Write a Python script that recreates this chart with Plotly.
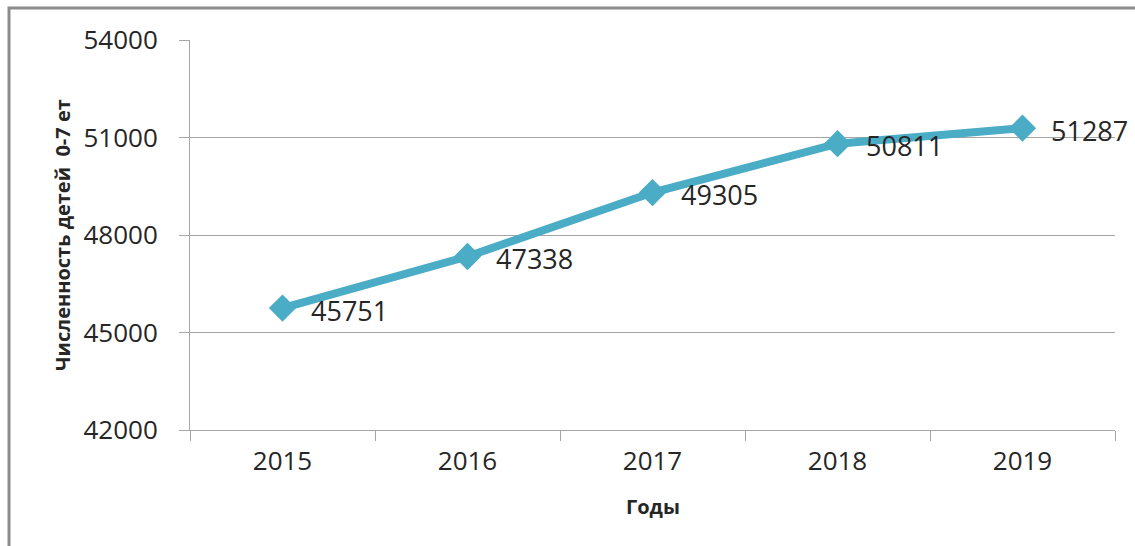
import plotly.graph_objects as go

years = ["2015", "2016", "2017", "2018", "2019"]
values = [45751, 47338, 49305, 50811, 51287]
y_ticks = [42000, 45000, 48000, 51000, 54000]
x_title = "Годы"
y_title = "Численность детей  0-7 ет"

W, H = 1135, 546
L, R, T, B = 190, 20, 40, 116
pw, ph = W - L - R, H - T - B

line_color = "#4BACC6"
text_color = "#262626"
grid_color = "#a6a6a6"
font_family = "Open Sans, DejaVu Sans, sans-serif"

fig = go.Figure()
fig.add_trace(go.Scatter(
    x=years, y=values, mode="lines+markers",
    line=dict(color=line_color, width=8),
    marker=dict(symbol="diamond", size=21, color=line_color),
    hoverinfo="skip", showlegend=False,
))

for i, yv in enumerate(values):
    fig.add_annotation(x=i, y=yv, text=str(yv), showarrow=False,
                       xanchor="left", yanchor="middle", xshift=26, yshift=-2,
                       font=dict(size=27, color=text_color, family=font_family))

def px_to_paper_x(px):
    return (px - L) / pw

def px_to_paper_y(py):
    return 1 - (py - T) / ph

# outer frame
fig.add_shape(type="rect", xref="paper", yref="paper",
              x0=px_to_paper_x(9), x1=px_to_paper_x(1145),
              y0=px_to_paper_y(560), y1=px_to_paper_y(8),
              line=dict(color="#8c8c8c", width=3), fillcolor="rgba(0,0,0,0)", layer="below")

fig.add_annotation(xref="paper", yref="paper", x=px_to_paper_x(62), y=px_to_paper_y(235),
                   text=f"<b>{y_title}</b>", textangle=-90, showarrow=False,
                   xanchor="center", yanchor="middle",
                   font=dict(size=20, color=text_color, family=font_family))
fig.add_annotation(xref="paper", yref="paper", x=px_to_paper_x(653), y=px_to_paper_y(506),
                   text=f"<b>{x_title}</b>", showarrow=False,
                   xanchor="center", yanchor="middle",
                   font=dict(size=20, color=text_color, family=font_family))

fig.update_layout(
    width=W, height=H,
    margin=dict(l=L, r=R, t=T, b=B, autoexpand=False),
    paper_bgcolor="white", plot_bgcolor="white",
    font=dict(family=font_family, color=text_color),
)
fig.update_xaxes(
    type="category", range=[-0.5, 4.5], tickson="boundaries",
    showgrid=False, showline=True, linecolor=grid_color, linewidth=1,
    ticks="outside", ticklen=10, tickcolor=grid_color, tickwidth=1,
    tickfont=dict(size=26, color=text_color), ticklabelstandoff=8,
    zeroline=False, fixedrange=True,
)
fig.update_yaxes(
    range=[42000, 54000], tickvals=y_ticks, ticktext=[str(v) for v in y_ticks],
    showgrid=True, gridcolor=grid_color, gridwidth=1,
    showline=True, linecolor=grid_color, linewidth=1,
    ticks="outside", ticklen=10, tickcolor=grid_color, tickwidth=1,
    tickfont=dict(size=26, color=text_color), ticklabelstandoff=16,
    zeroline=False, fixedrange=True,
)

fig.write_html("out.html")
